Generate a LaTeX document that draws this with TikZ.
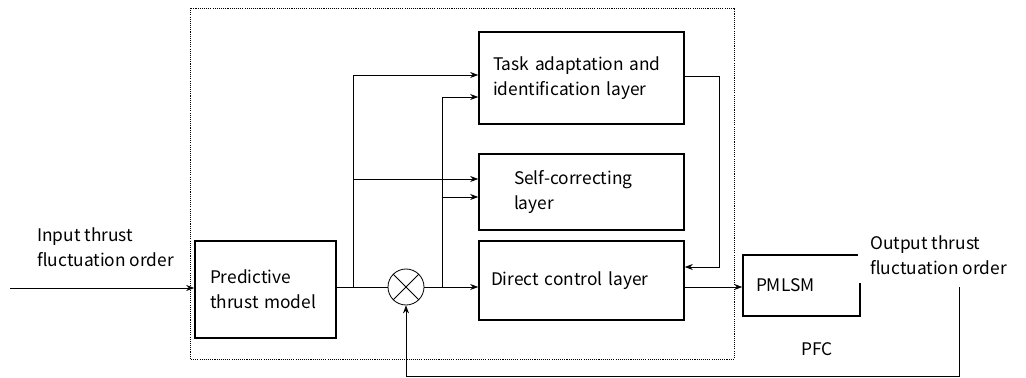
\documentclass[tikz,border=0pt]{standalone}
\usepackage{fontspec}
\setmainfont{Noto Sans CJK SC}
\usetikzlibrary{arrows.meta,positioning,calc}

\begin{document}
\begin{tikzpicture}[
      x=0.75pt,y=-0.75pt,
      font=\fontsize{13}{18.75}\selectfont,
      block/.style = {draw,rectangle,line width=1.2pt,align=left,inner ysep=0pt},
      arrow/.style = {semithick,-{Stealth[length=6pt,width=4.5pt]}},
      conn/.style = {semithick}
    ]
      \useasboundingbox (0,0) rectangle (1026,378);
      % PFC frame
      \draw [thin,dash pattern=on 0.8pt off 0.8pt] (190,8) rectangle (734,359);
      % blocks
      \node (pred)[block,minimum height=72.75pt,text width=83.25pt,inner xsep=11.25pt] at (265.5,289.5) {Predictive\\thrust model};
      \node (task)[block,minimum height=69pt,text width=132.75pt,inner xsep=10.5pt] at (581.5,78) {Task adaptation and\\identification layer};
      \node (self)[block,minimum height=57pt,text width=101.25pt,inner xsep=26.25pt] at (581.5,192) {Self-correcting\\layer};
      \node (direct)[block,minimum height=59.25pt,text width=135.75pt,inner xsep=9pt] at (581.5,280.5) {Direct control layer};
      \node (pmlsm)[block,minimum height=45.75pt,text width=68.25pt,inner xsep=9.75pt] at (801.5,285.5) {PMLSM};
      \node (sum)[draw,circle,semithick,minimum size=27pt,inner sep=0pt] at (406,287) {};
      \draw [semithick] (sum.north east) -- (sum.south west) (sum.north west) -- (sum.south east);
      % texts
      \node (inlabel)[anchor=west,align=left,inner sep=0pt] at (37,247) {Input thrust\\fluctuation order};
      \node (outlabel)[anchor=west,align=left,fill=white,inner xsep=9pt,inner ysep=6pt] at (858,255) {Output thrust\\fluctuation order};
      \node (pfc) at (817,349) {PFC};
      % connectors
      \coordinate (in) at (10,288);
      \coordinate (b1) at (353,287);
      \coordinate (b2) at (442,287);
      \coordinate (fb) at (959,287);
      \draw [arrow] (in) -- (in -| pred.west);
      \draw [conn] (pred.east |- sum) -- (sum.west);
      \draw [arrow] (b1) |- (task.west |- 0,75);
      \draw [arrow] (b1 |- 0,179) -- (self.west |- 0,179);
      \draw [arrow] (sum.east) -- (sum.east -| direct.west);
      \draw [arrow] (b2) |- (task.west |- 0,97);
      \draw [arrow] (b2 |- 0,197) -- (self.west |- 0,197);
      \draw [arrow] (task.east |- 0,76) -- (719,76) |- (direct.east |- 0,267);
      \draw [arrow] (direct.east |- 0,287) -- (pmlsm.west |- 0,287);
      \draw [arrow] (fb) |- (sum.south |- 0,376) -- (sum.south);
    \end{tikzpicture}
\end{document}
